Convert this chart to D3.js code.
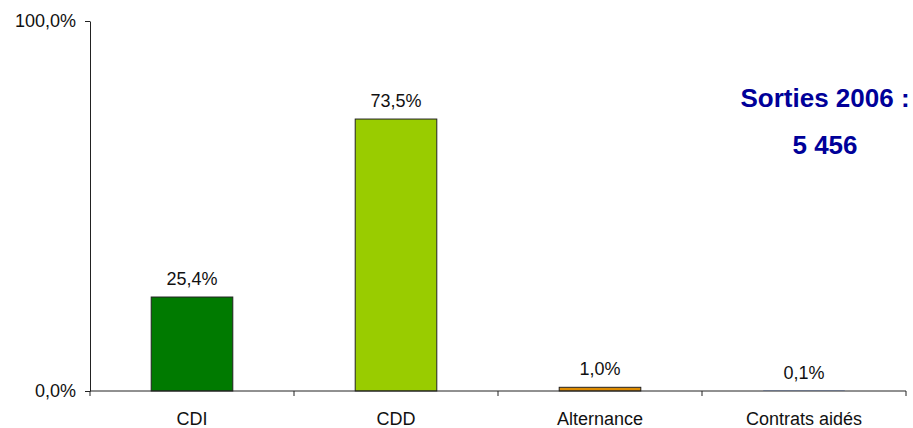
<!DOCTYPE html>
<html>
<head>
<meta charset="utf-8">
<script src="https://cdn.jsdelivr.net/npm/d3@7/dist/d3.min.js"></script>
<style>
  html, body { margin: 0; padding: 0; background: #fff; }
  svg { display: block; }
  text { font-family: "Liberation Sans", Arial, sans-serif; }
</style>
</head>
<body>
<svg id="chart" width="913" height="428"></svg>
<script>
const categories = ["CDI", "CDD", "Alternance", "Contrats aidés"];
const values = [25.4, 73.5, 1.0, 0.1];
const valueLabels = ["25,4%", "73,5%", "1,0%", "0,1%"];
const barColors = ["#007A00", "#99CC00", "#DE8C00", "#3366CC"];
const yTicks = [0, 100];
const yTickLabels = ["0,0%", "100,0%"];
const titleLines = ["Sorties 2006 :", "5 456"];

const svg = d3.select("#chart");
const mLeft = 90, mRight = 906, mTop = 21, mBottom = 391;
const fs = "18px";

const x = d3.scaleBand().domain(categories).range([mLeft, mRight])
  .paddingInner(0.6).paddingOuter(0.3);
const y = d3.scaleLinear().domain([0, 100]).range([mBottom, mTop]);

// Y axis
const yAxis = d3.axisLeft(y).tickValues(yTicks)
  .tickFormat((d, i) => yTickLabels[i]).tickSize(5).tickPadding(9).tickSizeOuter(0);
const gy = svg.append("g").attr("transform", `translate(${mLeft},0)`).call(yAxis);
gy.select(".domain").attr("stroke", "#222");
gy.selectAll(".tick line").attr("stroke", "#222");
gy.selectAll(".tick text").attr("font-size", fs).attr("fill", "#111")
  .attr("font-family", "'Liberation Sans', Arial, sans-serif");

// Bars
svg.selectAll("rect.bar").data(values).enter().append("rect")
  .attr("class", "bar")
  .attr("x", (d, i) => x(categories[i]))
  .attr("y", d => y(d))
  .attr("width", x.bandwidth())
  .attr("height", d => mBottom - y(d))
  .attr("fill", (d, i) => barColors[i])
  .attr("stroke", (d, i) => i === 3 ? "none" : "#222")
  .attr("stroke-width", 1);

// X axis with band boundary ticks
const gx = svg.append("g").attr("transform", `translate(0,${mBottom})`);
gx.append("line").attr("x1", mLeft).attr("x2", mRight).attr("y1", 0).attr("y2", 0)
  .attr("stroke", "#222");
const boundaries = categories.map((c, i) => mLeft + i * x.step());
boundaries.push(mRight);
gx.selectAll("line.tk").data(boundaries).enter().append("line")
  .attr("class", "tk").attr("x1", d => d).attr("x2", d => d)
  .attr("y1", 0).attr("y2", 5).attr("stroke", "#222");
gx.selectAll("text").data(categories).enter().append("text")
  .attr("x", d => x(d) + x.bandwidth() / 2)
  .attr("y", 34)
  .attr("text-anchor", "middle")
  .attr("font-size", fs).attr("fill", "#111")
  .text(d => d);

// Value labels
svg.selectAll("text.val").data(values).enter().append("text")
  .attr("class", "val")
  .attr("x", (d, i) => x(categories[i]) + x.bandwidth() / 2)
  .attr("y", d => y(d) - 12)
  .attr("text-anchor", "middle")
  .attr("font-size", fs).attr("fill", "#111")
  .text((d, i) => valueLabels[i]);

// Title annotation
svg.selectAll("text.ttl").data(titleLines).enter().append("text")
  .attr("class", "ttl")
  .attr("x", 825)
  .attr("y", (d, i) => 107 + i * 47)
  .attr("text-anchor", "middle")
  .attr("font-size", "26px").attr("font-weight", "bold").attr("fill", "#000099")
  .text(d => d);
</script>
</body>
</html>
